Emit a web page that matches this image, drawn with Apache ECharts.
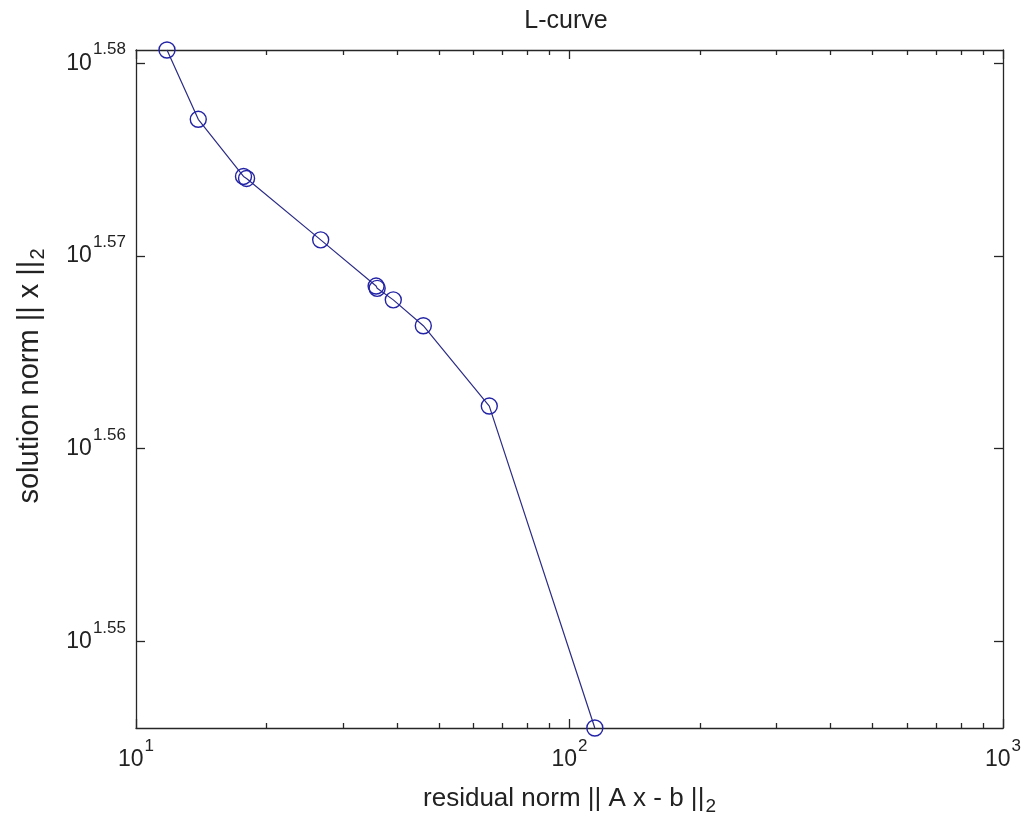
<!DOCTYPE html>
<html>
<head>
<meta charset="utf-8">
<script src="https://cdn.jsdelivr.net/npm/echarts@6/dist/echarts.min.js"></script>
<style>
html,body{margin:0;padding:0;background:#fff;}
#chart{width:1026px;height:822px;}
</style>
</head>
<body>
<div id="chart"></div>
<script>
// residual norm || A x - b ||_2
const residualNorm = [11.79, 13.92, 17.70, 17.99, 26.67, 35.8, 36.0, 39.22, 46.0, 65.31, 114.4];
// solution norm || x ||_2
const solutionNorm = [38.079, 37.765, 37.508, 37.499, 37.225, 37.02, 37.01, 36.959, 36.845, 36.493, 35.116];

const xMajorTicks = [10, 100, 1000];
const xMinorTicks = [20, 30, 40, 50, 60, 70, 80, 90, 200, 300, 400, 500, 600, 700, 800, 900];
const yTickExponents = [1.55, 1.56, 1.57, 1.58];

const FONT = 'Liberation Sans';
const AX = '#262626';
const TXT = '#222';
const LINE = '#2b2b86';
const MARK = '#2323a6';

const yTickValues = yTickExponents.map(e => Math.pow(10, e));
const yMin = Math.min(...solutionNorm);
const yMax = Math.max(...solutionNorm);

const supRich = {
  b: {fontFamily: FONT, fontSize: 23, color: TXT},
  s: {fontFamily: FONT, fontSize: 17, color: TXT, padding: [0, 0, 27, 1]}
};

function xAxisCfg(pos, ticks, len, labels, line) {
  return {
    type: 'log', logBase: 10, min: 10, max: 1000, position: pos, gridIndex: 0,
    axisLine: {show: line, onZero: false, lineStyle: {color: AX, width: 1.3}},
    axisTick: {show: true, inside: true, length: len, customValues: ticks, lineStyle: {color: AX, width: 1.3}},
    axisLabel: labels ? {
      show: true, customValues: ticks, margin: 10,
      formatter: v => '{b|10}{s|' + Math.round(Math.log10(v)) + '}',
      rich: supRich
    } : {show: false},
    splitLine: {show: false}, minorTick: {show: false}
  };
}
function yAxisCfg(pos, labels, line) {
  return {
    type: 'log', logBase: 10, min: yMin, max: yMax, position: pos, gridIndex: 0,
    axisLine: {show: line, onZero: false, lineStyle: {color: AX, width: 1.3}},
    axisTick: {show: true, inside: true, length: 9, customValues: yTickValues, lineStyle: {color: AX, width: 1.3}},
    axisLabel: labels ? {
      show: true, customValues: yTickValues, margin: 10,
      formatter: v => '{b|10}{s|' + Math.log10(v).toFixed(2) + '}',
      rich: supRich
    } : {show: false},
    splitLine: {show: false}
  };
}

const xMain = xAxisCfg('bottom', xMajorTicks, 9, true, true);
xMain.name = '{a|residual norm || A x - b ||}{s|2}';
xMain.nameLocation = 'middle';
xMain.nameGap = 53;
xMain.nameTextStyle = {rich: {
  a: {fontFamily: FONT, fontSize: 26, color: TXT},
  s: {fontFamily: FONT, fontSize: 19, color: TXT, padding: [16, 0, 0, 1]}
}};

const yMain = yAxisCfg('left', true, true);
yMain.name = '{a|solution norm || x ||}{s|2}';
yMain.nameLocation = 'middle';
yMain.nameGap = 88;
yMain.nameRotate = 90;
yMain.nameTextStyle = {padding: [0, 0, 0, 26], rich: {
  a: {fontFamily: FONT, fontSize: 29, color: TXT},
  s: {fontFamily: FONT, fontSize: 20, color: TXT, padding: [16, 0, 0, 1]}
}};

const option = {
  animation: false,
  backgroundColor: '#fff',
  graphic: [{
    type: 'text', x: 566, y: 21,
    style: {text: 'L-curve', x: 0, y: 0, align: 'center', verticalAlign: 'middle',
      font: '25px "Liberation Sans"', fill: TXT}
  }],
  grid: {left: 136, right: 23, top: 50, bottom: 94, containLabel: false, outerBoundsMode: 'none'},
  xAxis: [
    xMain,
    xAxisCfg('bottom', xMinorTicks, 5, false, false),
    xAxisCfg('top', xMajorTicks, 9, false, true),
    xAxisCfg('top', xMinorTicks, 5, false, false)
  ],
  yAxis: [
    yMain,
    yAxisCfg('right', false, true)
  ],
  series: [{
    type: 'line',
    xAxisIndex: 0, yAxisIndex: 0,
    data: residualNorm.map((r, i) => [r, solutionNorm[i]]),
    symbol: 'circle', symbolSize: 16, showSymbol: true,
    clip: false,
    lineStyle: {color: LINE, width: 1.2},
    itemStyle: {color: 'rgba(0,0,0,0)', borderColor: MARK, borderWidth: 1.4},
    emphasis: {disabled: true}
  }]
};

const chart = echarts.init(document.getElementById('chart'), null, {renderer: 'canvas'});
chart.setOption(option);
</script>
</body>
</html>
